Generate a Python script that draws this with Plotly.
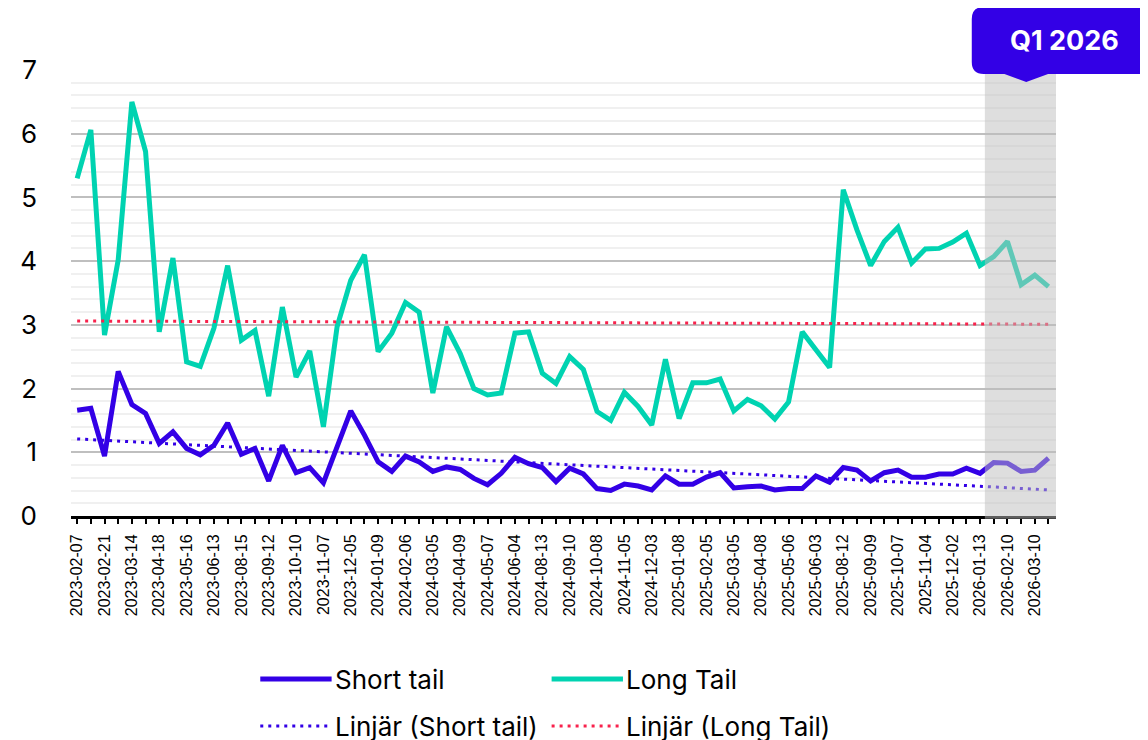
import plotly.graph_objects as go

# ---------------- data ----------------
tick_labels = ["2023-02-07", "2023-02-21", "2023-03-14", "2023-04-18", "2023-05-16", "2023-06-13",
               "2023-08-15", "2023-09-12", "2023-10-10", "2023-11-07", "2023-12-05", "2024-01-09",
               "2024-02-06", "2024-03-05", "2024-04-09", "2024-05-07", "2024-06-04", "2024-08-13",
               "2024-09-10", "2024-10-08", "2024-11-05", "2024-12-03", "2025-01-08", "2025-02-05",
               "2025-03-05", "2025-04-08", "2025-05-06", "2025-06-03", "2025-08-12", "2025-09-09",
               "2025-10-07", "2025-11-04", "2025-12-02", "2026-01-13", "2026-02-10", "2026-03-10"]

short_tail = [1.66, 1.69, 0.94, 2.27, 1.75, 1.61, 1.14, 1.32, 1.06, 0.96,
              1.11, 1.46, 0.97, 1.06, 0.55, 1.11, 0.68, 0.76, 0.52, 1.06,
              1.65, 1.27, 0.85, 0.70, 0.94, 0.85, 0.70, 0.77, 0.73, 0.59,
              0.49, 0.67, 0.92, 0.82, 0.76, 0.54, 0.75, 0.66, 0.43, 0.40,
              0.50, 0.47, 0.41, 0.63, 0.50, 0.50, 0.61, 0.68, 0.44, 0.46,
              0.47, 0.41, 0.43, 0.43, 0.63, 0.53, 0.76, 0.72, 0.55, 0.68,
              0.72, 0.61, 0.61, 0.66, 0.66, 0.75, 0.67, 0.84, 0.83, 0.70,
              0.72, 0.91]

long_tail = [5.30, 6.06, 2.84, 4.02, 6.50, 5.72, 2.89, 4.05, 2.42, 2.35,
             2.95, 3.93, 2.76, 2.91, 1.88, 3.28, 2.18, 2.59, 1.40, 2.97,
             3.70, 4.10, 2.58, 2.87, 3.35, 3.20, 1.93, 2.97, 2.55, 2.00,
             1.90, 1.93, 2.87, 2.89, 2.24, 2.08, 2.50, 2.30, 1.64, 1.50,
             1.94, 1.72, 1.43, 2.46, 1.53, 2.09, 2.09, 2.15, 1.65, 1.83,
             1.73, 1.52, 1.79, 2.89, 2.61, 2.33, 5.12, 4.49, 3.93, 4.31,
             4.53, 3.97, 4.19, 4.20, 4.30, 4.44, 3.93, 4.07, 4.31, 3.63,
             3.78, 3.60]

trend_short_ends = [1.21, 0.41]   # Linjär (Short tail), first and last point
trend_long_ends = [3.06, 3.01]    # Linjär (Long Tail), first and last point

callout_text = "Q1 2026"
series_names = ["Short tail", "Long Tail", "Linjär (Short tail)", "Linjär (Long Tail)"]

# ---------------- styling ----------------
BLUE = "#3300E6"
TEAL = "#00D3B1"
RED = "#F8224C"

OFF = 8                      # page body margin in the browser
W, H = 1148 - OFF, 740 - OFF
L, R, T, B = 62, 1056, 70, 516   # plot area in page pixels

def pxx(p):
    return (p - L) / (R - L)

def pxy(p):
    return (B - p) / (B - T)

n = len(short_tail)
idx = list(range(n))
ticktext = []
for i in idx:
    ticktext.append(tick_labels[i // 2] if i % 2 == 0 and i // 2 < len(tick_labels) else "")

fig = go.Figure()
fig.add_trace(go.Scatter(x=idx, y=short_tail, mode="lines", name=series_names[0],
                         line=dict(color=BLUE, width=5), showlegend=False))
fig.add_trace(go.Scatter(x=idx, y=long_tail, mode="lines", name=series_names[1],
                         line=dict(color=TEAL, width=5), showlegend=False))
fig.add_trace(go.Scatter(x=[idx[0], idx[-1]], y=trend_short_ends, mode="lines", name=series_names[2],
                         line=dict(color=BLUE, width=3, dash="3px,5px"), showlegend=False))
fig.add_trace(go.Scatter(x=[idx[0], idx[-1]], y=trend_long_ends, mode="lines", name=series_names[3],
                         line=dict(color=RED, width=3, dash="3px,5px"), showlegend=False))

shapes = []
# shaded forecast region (overlay)
shapes.append(dict(type="rect", xref="x", yref="paper", x0=66.35, x1=71.55, y0=-0.006, y1=1.0,
                   fillcolor="rgb(190,190,190)", opacity=0.5, line=dict(width=0), layer="above"))

# callout box with pointer
x0, x1, y0, y1, r = 971, 1165, 7, 74, 12
ax, ay, bw = 1026, 82, 22
path = (f"M{pxx(x0 + r)},{pxy(y0)} L{pxx(x1)},{pxy(y0)} L{pxx(x1)},{pxy(y1)} "
        f"L{pxx(ax + bw)},{pxy(y1)} L{pxx(ax)},{pxy(ay)} L{pxx(ax - bw)},{pxy(y1)} "
        f"L{pxx(x0 + r)},{pxy(y1)} Q{pxx(x0)},{pxy(y1)} {pxx(x0)},{pxy(y1 - r)} "
        f"L{pxx(x0)},{pxy(y0 + r)} Q{pxx(x0)},{pxy(y0)} {pxx(x0 + r)},{pxy(y0)} Z")
shapes.append(dict(type="path", xref="paper", yref="paper", path=path,
                   fillcolor=BLUE, line=dict(width=0), layer="above"))

# legend (manual)
legend_items = [
    (253, 325, 679, BLUE, 5, "solid", series_names[0]),
    (547, 619, 679, TEAL, 5, "solid", series_names[1]),
    (253, 325, 726, BLUE, 3, "3px,5px", series_names[2]),
    (547, 619, 726, RED, 3, "3px,5px", series_names[3]),
]
annotations = []
for xa, xb, yy, col, w, dash, name in legend_items:
    shapes.append(dict(type="line", xref="paper", yref="paper",
                       x0=pxx(xa), x1=pxx(xb), y0=pxy(yy), y1=pxy(yy),
                       line=dict(color=col, width=w, dash=dash)))
    annotations.append(dict(xref="paper", yref="paper", x=pxx(xb + 1), y=pxy(yy),
                            xanchor="left", yanchor="middle", text=name, showarrow=False,
                            font=dict(family="Inter", size=26, color="#000000")))

annotations.append(dict(xref="paper", yref="paper", x=pxx(1065), y=pxy(41),
                        xanchor="center", yanchor="middle", text=f"<b>{callout_text}</b>",
                        showarrow=False, font=dict(family="Inter", size=27, color="#FFFFFF")))

fig.update_layout(
    width=W, height=H,
    margin=dict(l=L - OFF, r=1148 - R, t=T - OFF, b=740 - B),
    paper_bgcolor="#FFFFFF", plot_bgcolor="#FFFFFF",
    showlegend=False,
    shapes=shapes, annotations=annotations,
    xaxis=dict(range=[-0.45, n - 1 + 0.55], tickmode="array", tickvals=idx, ticktext=ticktext,
               tickangle=-90, ticks="outside", ticklen=5, tickwidth=2, tickcolor="#000000",
               showline=True, linecolor="#000000", linewidth=3, showgrid=False, zeroline=False,
               tickfont=dict(family="Liberation Sans, Arial", size=16, color="#000000"),
               ticklabelstandoff=4),
    yaxis=dict(range=[0, 7], dtick=1, tick0=0, showgrid=True, gridcolor="#BFBFBF", gridwidth=2,
               zeroline=False, showline=False, ticks="",
               tickfont=dict(family="Inter", size=26, color="#000000"),
               ticklabelstandoff=33,
               minor=dict(dtick=0.2, showgrid=True, gridcolor="#F0F0F0", gridwidth=2)),
)

fig.write_html("out.html")
